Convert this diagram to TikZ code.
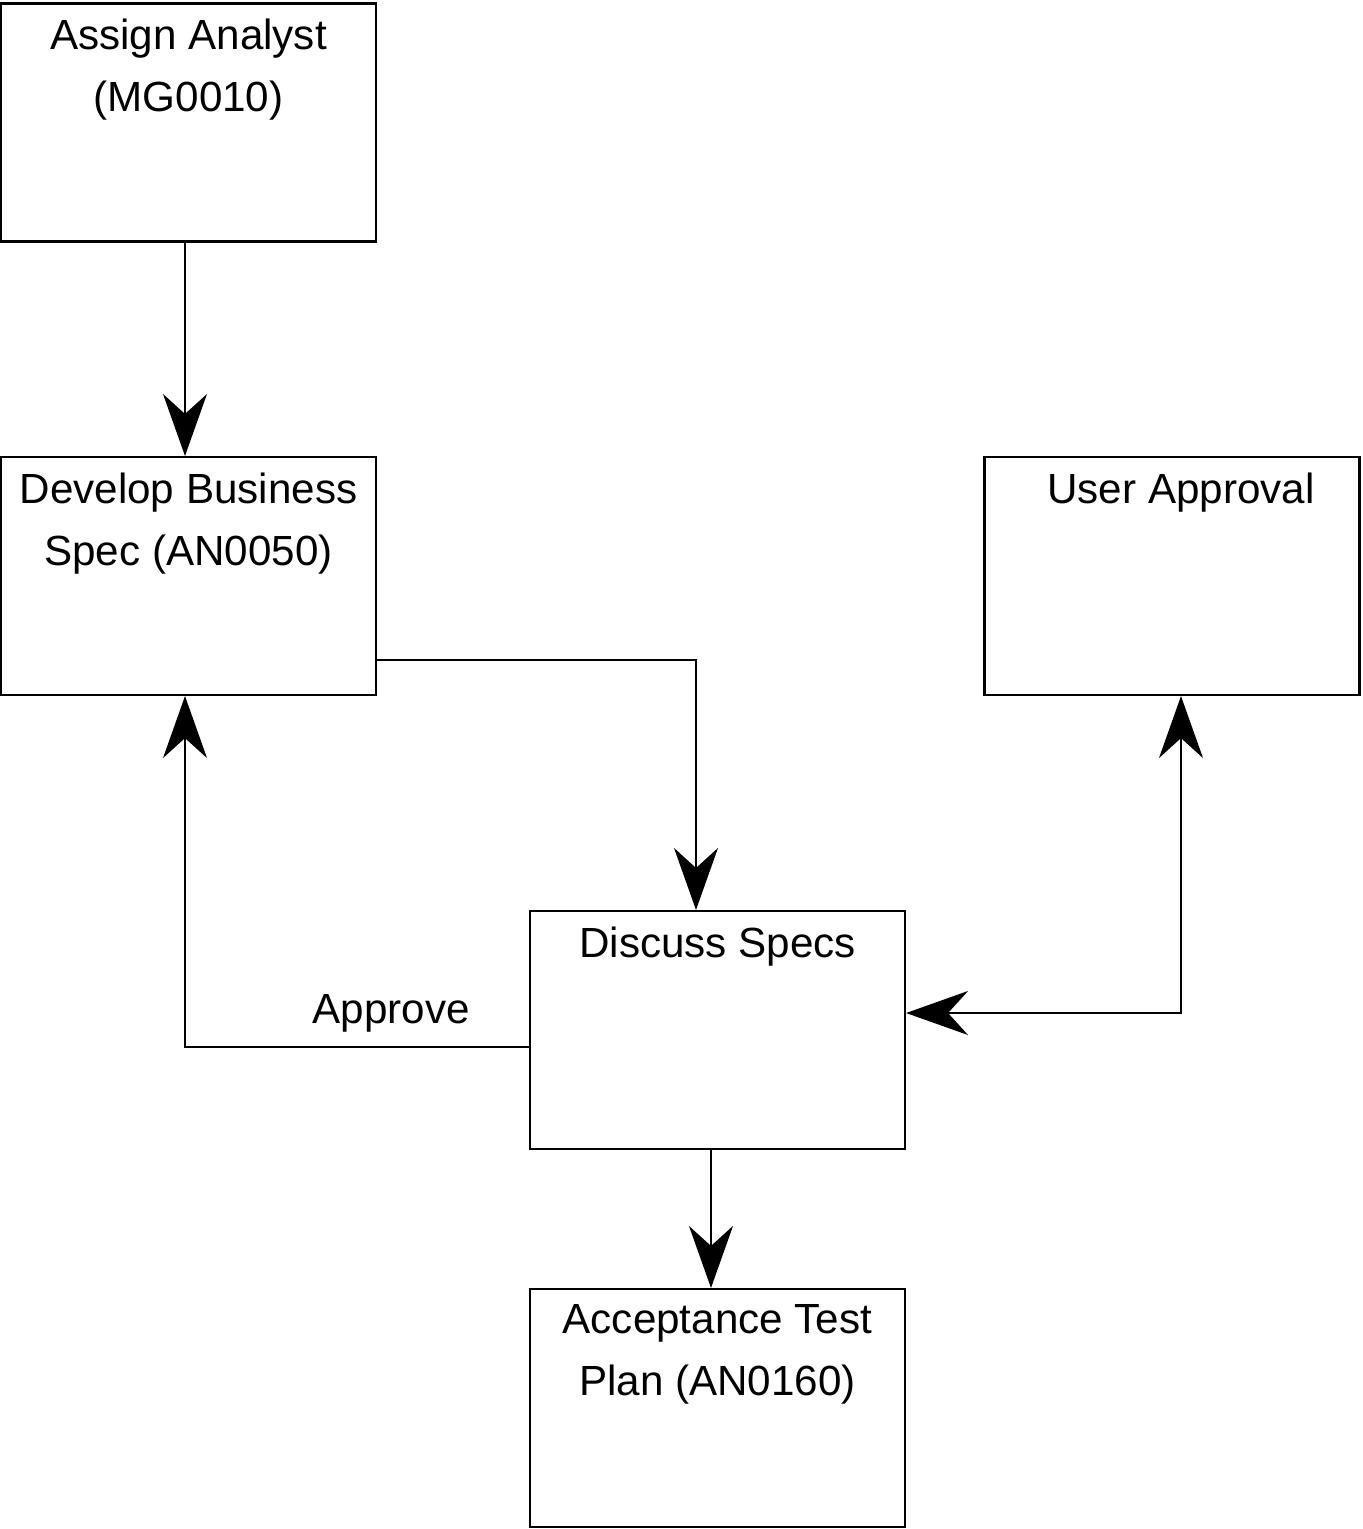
\documentclass[tikz,border=0pt]{standalone}
\usepackage{fontspec}
\setmainfont{Liberation Sans}
\usetikzlibrary{arrows.meta}
\tikzset{box/.style={rectangle, draw, line width=0.6pt,
   minimum width=3.75cm, minimum height=2.38cm, inner sep=0pt}}
\tikzset{txt/.style={anchor=north, align=center, font=\fontsize{12}{17.6}\selectfont,
   inner sep=0pt, yshift=-0.16cm}}
\tikzset{tip/.tip={Stealth[length=0.62cm, width=0.44cm, inset=0.2cm]}}
\tikzset{flow/.style={line width=0.45pt, -tip}}

\begin{document}
\begin{tikzpicture}

    \useasboundingbox (0,0) rectangle (13.63,-15.29);

    \node[box, label={[txt]north:Assign Analyst\\(MG0010)}]          (assign)  at (1.885,-1.225)  {};
    \node[box, label={[txt]north:Develop Business\\Spec (AN0050)}]   (develop) at (1.885,-5.76)   {};
    \node[box, label={[txt, xshift=0.09cm]north:User Approval}]      (user)    at (11.72,-5.76)   {};
    \node[box, label={[txt]north:Discuss Specs}]                     (discuss) at (7.175,-10.30)  {};
    \node[box, label={[txt]north:Acceptance Test\\Plan (AN0160)}]    (accept)  at (7.175,-14.08)  {};

    \draw[flow] ([xshift=-0.035cm]assign.south) -- ([xshift=-0.035cm]develop.north);
    \draw[flow] ([yshift=-0.84cm]develop.east) -| ([xshift=-0.215cm]discuss.north);
    \draw[flow] ([yshift=-0.17cm]discuss.west) -| ([xshift=-0.035cm]develop.south)
        node[pos=0.2, above, yshift=0.02cm, font=\fontsize{12}{14}\selectfont] {Approve};
    \draw[flow, tip-tip] ([yshift=0.17cm]discuss.east) -| ([xshift=0.09cm]user.south);
    \draw[flow] ([xshift=-0.065cm]discuss.south) -- ([xshift=-0.065cm]accept.north);

\end{tikzpicture}
\end{document}
